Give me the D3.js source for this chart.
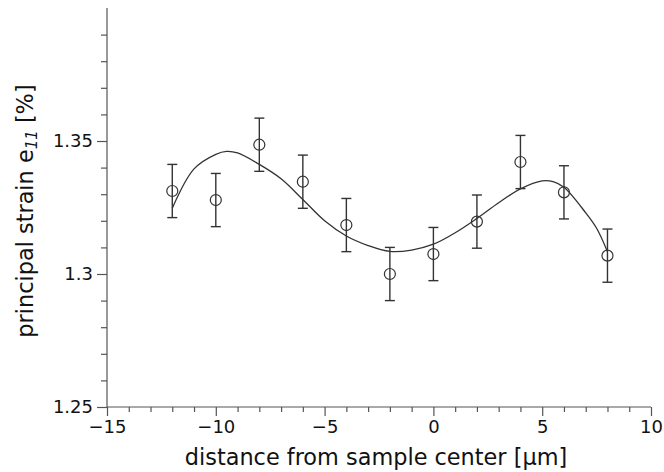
<!DOCTYPE html>
<html>
<head>
  <script src="https://d3js.org/d3.v7.min.js"></script>
  <style>
    body { margin: 0; background: #fff; }
    text { font-family: "DejaVu Sans", sans-serif; fill: #111; }
  </style>
</head>
<body>
  <svg id="chart"></svg>
  <script>
    // measured points (distance in um, strain in %, +/- error)
    var posX = [-12, -10, -8, -6, -4, -2, 0, 2, 4, 6, 8];
    var strain = [1.3312, 1.3278, 1.3486, 1.3347, 1.3184, 1.3000, 1.3075, 1.3197, 1.3421, 1.3307, 1.3069];
    var errBar = [0.01, 0.01, 0.01, 0.01, 0.01, 0.01, 0.01, 0.01, 0.01, 0.01, 0.01];

    // fitted curve
    var fitX = [-12, -11, -10, -9.5, -9, -8, -7, -6, -5, -4, -3, -2, -1, 0, 1, 2, 3, 4, 5, 5.5, 6, 7, 7.5, 8];
    var fitY = [1.3247, 1.3395, 1.3450, 1.3461, 1.3455, 1.3412, 1.3358, 1.3280, 1.3200, 1.3143, 1.3107, 1.3085,
                1.3090, 1.3112, 1.3155, 1.3209, 1.3268, 1.3320, 1.3350, 1.3347, 1.3326, 1.3230, 1.3172, 1.3084];

    var xMajor = [-15, -10, -5, 0, 5, 10];
    var yMajor = [1.25, 1.3, 1.35];
    var yMajorLabels = ["1.25", "1.3", "1.35"];

    var width = 664, height = 472;
    var margin = { top: 8, right: 13, bottom: 65, left: 107 };

    var svg = d3.select("#chart").attr("width", width).attr("height", height);

    var x = d3.scaleLinear().domain([-15, 10]).range([margin.left, width - margin.right]);
    var y = d3.scaleLinear().domain([1.25, 1.40]).range([height - margin.bottom, margin.top]);

    var minorX = d3.range(-15, 10.01, 1).filter(d => xMajor.indexOf(d) < 0);
    var minorY = d3.range(1.25, 1.395, 0.01).map(d => +d.toFixed(2)).filter(d => yMajor.indexOf(d) < 0);

    var axisColor = "#555";

    // x axis
    var gx = svg.append("g").attr("transform", "translate(0," + y(1.25) + ")");
    gx.call(d3.axisBottom(x).tickValues(minorX).tickSize(5).tickFormat(""));
    gx.call(g => g.select(".domain").remove());
    var gx2 = svg.append("g").attr("transform", "translate(0," + y(1.25) + ")");
    gx2.call(d3.axisBottom(x).tickValues(xMajor).tickSize(9).tickPadding(4)
      .tickFormat(d => d < 0 ? "\u2212" + Math.abs(d) : d));
    gx2.select(".domain").attr("d", "M" + x(-15) + ",0H" + x(10));
    gx2.selectAll("text").style("font-size", "18px").attr("fill", "#111");

    // y axis
    var gy = svg.append("g").attr("transform", "translate(" + x(-15) + ",0)");
    gy.call(d3.axisLeft(y).tickValues(minorY).tickSize(6).tickFormat(""));
    gy.call(g => g.select(".domain").remove());
    var gy2 = svg.append("g").attr("transform", "translate(" + x(-15) + ",0)");
    gy2.call(d3.axisLeft(y).tickValues(yMajor).tickSize(10).tickPadding(4)
      .tickFormat((d, i) => yMajorLabels[i]));
    gy2.select(".domain").attr("d", "M0," + y(1.40) + "V" + y(1.25));
    gy2.selectAll("text").style("font-size", "18px").attr("fill", "#111");

    svg.selectAll(".tick line, .domain").attr("stroke", axisColor).attr("stroke-width", 1.2);

    // fitted curve
    var line = d3.line()
      .x((d, i) => x(fitX[i]))
      .y(d => y(d))
      .curve(d3.curveCatmullRom);

    svg.append("path")
      .datum(fitY)
      .attr("d", line)
      .attr("fill", "none")
      .attr("stroke", "#333")
      .attr("stroke-width", 1.3);

    // error bars
    var bars = svg.append("g").attr("stroke", "#333").attr("stroke-width", 1.4);
    bars.selectAll(".eb")
      .data(strain)
      .enter()
      .append("line")
      .attr("x1", (d, i) => x(posX[i]))
      .attr("x2", (d, i) => x(posX[i]))
      .attr("y1", (d, i) => y(d + errBar[i]))
      .attr("y2", (d, i) => y(d - errBar[i]));
    bars.selectAll(".capt")
      .data(strain)
      .enter()
      .append("line")
      .attr("x1", (d, i) => x(posX[i]) - 5)
      .attr("x2", (d, i) => x(posX[i]) + 5)
      .attr("y1", (d, i) => y(d + errBar[i]))
      .attr("y2", (d, i) => y(d + errBar[i]));
    bars.selectAll(".capb")
      .data(strain)
      .enter()
      .append("line")
      .attr("x1", (d, i) => x(posX[i]) - 5)
      .attr("x2", (d, i) => x(posX[i]) + 5)
      .attr("y1", (d, i) => y(d - errBar[i]))
      .attr("y2", (d, i) => y(d - errBar[i]));

    // circles
    svg.append("g").selectAll("circle")
      .data(strain)
      .enter()
      .append("circle")
      .attr("cx", (d, i) => x(posX[i]))
      .attr("cy", d => y(d))
      .attr("r", 5.5)
      .attr("fill", "none")
      .attr("stroke", "#333")
      .attr("stroke-width", 1.2);

    // axis titles
    svg.append("text")
      .attr("x", 376)
      .attr("y", 465)
      .attr("text-anchor", "middle")
      .style("font-size", "22.4px")
      .text("distance from sample center [\u03bcm]");

    var yt = svg.append("text")
      .attr("transform", "translate(33,211) rotate(-90)")
      .attr("text-anchor", "middle")
      .style("font-size", "22.4px");
    yt.append("tspan").text("principal strain e");
    yt.append("tspan").attr("font-style", "italic").attr("font-size", "15px").attr("dy", 4).text("11");
    yt.append("tspan").attr("dy", -4).text(" [%]");
  </script>
</body>
</html>
